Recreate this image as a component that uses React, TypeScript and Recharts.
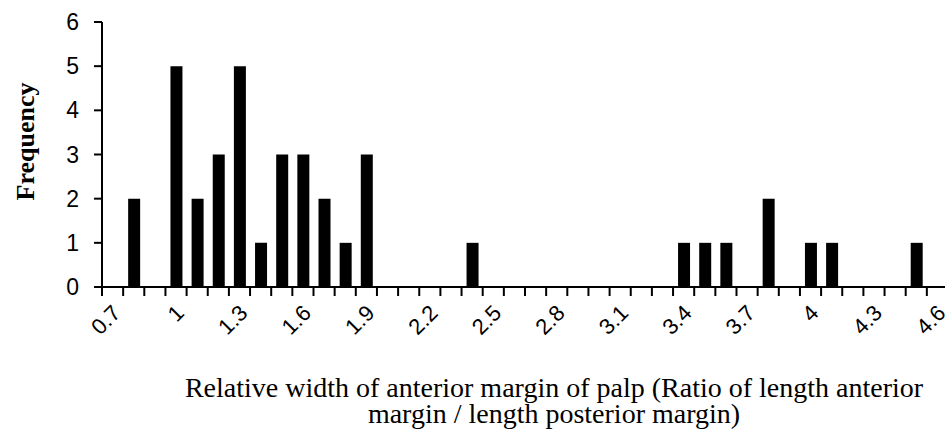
import { Bar, BarChart, XAxis, YAxis, Label } from "recharts"

// ratio classes on the x axis (one bar slot per class)
const ratioClasses = [
  "0.7", "0.8", "0.9", "1", "1.1", "1.2", "1.3", "1.4", "1.5", "1.6",
  "1.7", "1.8", "1.9", "2", "2.1", "2.2", "2.3", "2.4", "2.5", "2.6",
  "2.7", "2.8", "2.9", "3", "3.1", "3.2", "3.3", "3.4", "3.5", "3.6",
  "3.7", "3.8", "3.9", "4", "4.1", "4.2", "4.3", "4.4", "4.5", "4.6",
]

const frequency = [
  0, 2, 0, 5, 2, 3, 5, 1, 3, 3,
  2, 1, 3, 0, 0, 0, 0, 1, 0, 0,
  0, 0, 0, 0, 0, 0, 0, 1, 1, 1,
  0, 2, 0, 1, 1, 0, 0, 0, 1, 0,
]

const yTicks = [0, 1, 2, 3, 4, 5, 6]

const data = ratioClasses.map((ratio, i) => ({ ratio, count: frequency[i] }))

const sans = "'Liberation Sans', Arial, sans-serif"
const serif = "'Liberation Serif', 'Times New Roman', serif"

// tick marks on class boundaries, a label on every third class centre
function XTick(props: any) {
  const { x, y, payload, index } = props
  const half = payload.offset ?? 0
  const bx = x - half
  const ty = y + 22
  return (
    <g>
      <line x1={bx} y1={y} x2={bx} y2={y + 9} stroke="#000" strokeWidth={2} />
      {index === ratioClasses.length - 1 && (
        <line x1={x + half} y1={y} x2={x + half} y2={y + 9} stroke="#000" strokeWidth={2} />
      )}
      {index % 3 === 0 && (
        <text
          x={x + 4}
          y={ty}
          textAnchor="end"
          dy="0.35em"
          transform={`rotate(-45 ${x + 4} ${ty})`}
          fontFamily={sans}
          fontSize={22}
          fill="#000"
        >
          {payload.value}
        </text>
      )}
    </g>
  )
}

export default function App() {
  return (
    <div style={{ position: "absolute", left: 0, top: 0, width: 945, height: 442, overflow: "hidden", background: "#fff" }}>
      <BarChart
        width={960}
        height={442}
        data={data}
        margin={{ top: 22, right: 12, left: 0, bottom: 0 }}
        barCategoryGap="43%"
      >
        <XAxis
          dataKey="ratio"
          interval={0}
          height={155}
          axisLine={{ stroke: "#000", strokeWidth: 2 }}
          tickLine={false}
          tickSize={0}
          tickMargin={0}
          tick={<XTick />}
        >
          <Label
            content={(p: any) => {
              const vb = p.viewBox
              const cx = 554
              return (
                <text textAnchor="middle" fontFamily={serif} fontSize={28} fill="#000">
                  <tspan x={cx} y={vb.y + 110}>
                    Relative width of anterior margin of palp (Ratio of length anterior
                  </tspan>
                  <tspan x={cx} y={vb.y + 136}>
                    margin / length posterior margin)
                  </tspan>
                </text>
              )
            }}
          />
        </XAxis>
        <YAxis
          width={102}
          domain={[0, 6]}
          ticks={yTicks}
          interval={0}
          axisLine={{ stroke: "#000", strokeWidth: 2 }}
          tickLine={{ stroke: "#000", strokeWidth: 2 }}
          tickSize={8}
          tickMargin={15}
          tick={{ fill: "#000", fontSize: 23, fontFamily: sans }}
        >
          <Label
            content={(p: any) => {
              const vb = p.viewBox
              const cx = 25
              const cy = vb.y + vb.height / 2 - 13
              return (
                <text
                  x={cx}
                  y={cy}
                  textAnchor="middle"
                  dy="0.35em"
                  transform={`rotate(-90 ${cx} ${cy})`}
                  fontFamily={serif}
                  fontWeight="bold"
                  fontSize={26}
                  fill="#000"
                >
                  Frequency
                </text>
              )
            }}
          />
        </YAxis>
        <Bar dataKey="count" fill="#000" barSize={12} isAnimationActive={false} />
      </BarChart>
    </div>
  )
}
